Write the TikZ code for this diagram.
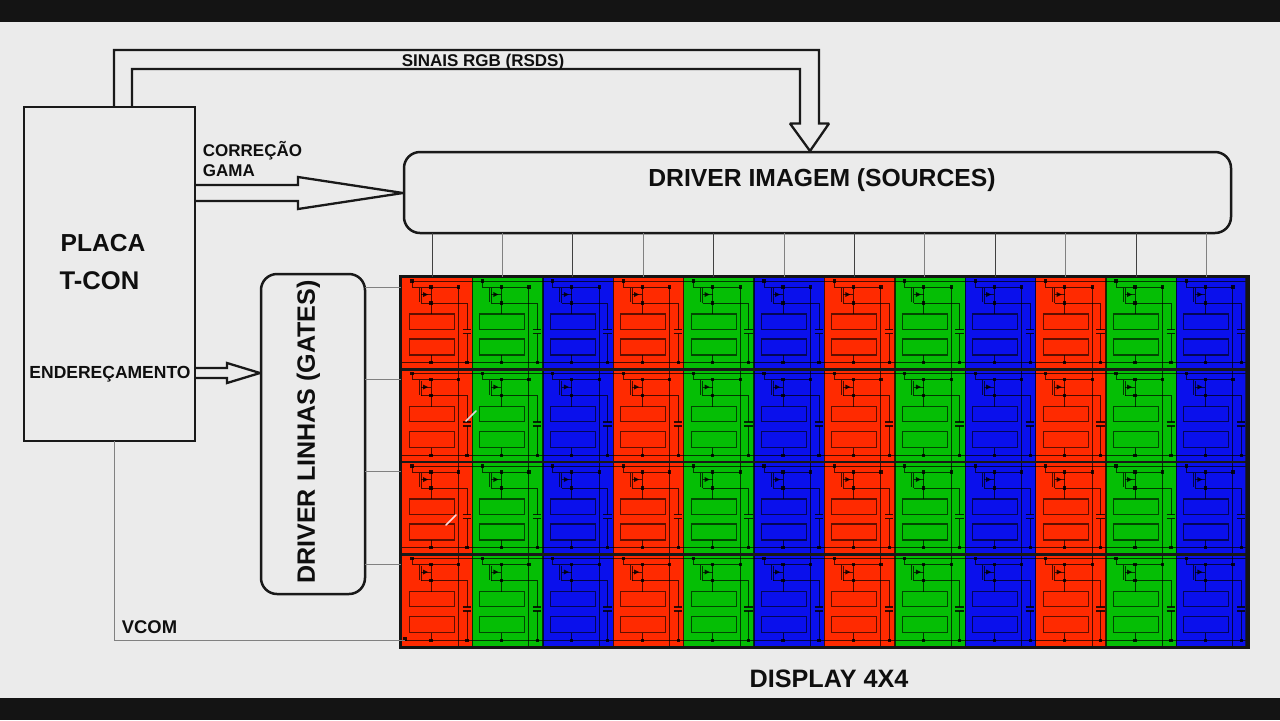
\documentclass[tikz,border=0pt]{standalone}
\usepackage{fontspec}
\setmainfont{Liberation Sans}
\begin{document}
\begin{tikzpicture}[x=0.5pt,y=-0.5pt,
  blockline/.style={draw=black!90,line width=1.25pt,line join=miter,outer sep=0pt},
  roundblock/.style={blockline,rounded corners=8pt,inner sep=0pt},
  fatarrow/.style={draw=black!90,line width=1.15pt,line join=miter,miter limit=2,fill=none},
  feed/.style={line width=0.5pt},
  feeddark/.style={feed,draw=black!75},
  feedgray/.style={feed,draw=black!50},
  wire/.style={draw=black,draw opacity=0.7,line width=0.5pt},
  wirebox/.style={draw=black,draw opacity=0.62,line width=0.55pt},
  capwire/.style={draw=black,draw opacity=0.8,line width=0.6pt},
  jdot/.style={fill=black,fill opacity=0.85,draw=none},
  cellbox/.style={draw=none,inner sep=0pt,outer sep=0pt,minimum width=35.2pt,minimum height=46.25pt,anchor=north west},
  lab/.style={font=\bfseries,text=black!94,inner sep=0pt},
  scratch/.style={line width=0.8pt,line cap=round}]
\definecolor{lcdred}{HTML}{FF2A00}
\definecolor{lcdgreen}{HTML}{05BE05}
\definecolor{lcdblue}{HTML}{0A10EC}
\definecolor{bgpaper}{HTML}{EBEBEB}
\definecolor{barblack}{HTML}{141414}
\useasboundingbox (0,0) rectangle (1280,720);
\fill[bgpaper] (0,0) rectangle (1280,720);
\fill[barblack] (0,0) rectangle (1280,22);
\fill[barblack] (0,698) rectangle (1280,720);

% blocks
\node[blockline,inner sep=0pt,minimum width=85.5pt,minimum height=167pt,anchor=north west] (tcon) at (24,107) {};
\node[roundblock,minimum width=413.5pt,minimum height=40.5pt,anchor=north west] (drvi) at (404,152) {};
\node[roundblock,minimum width=52pt,minimum height=160pt,anchor=north west] (drvl) at (261,274) {};

% cells
\foreach \r in {1,2,3,4}{
  \foreach \c in {1,...,12}{
    \pgfmathsetmacro{\cx}{402+(\c-1)*70.4}
    \pgfmathsetmacro{\cy}{277+(\r-1)*92.5}
    \pgfmathtruncatemacro{\k}{mod(\c-1,3)}
    \ifcase\k\def\cellcol{lcdred}\or\def\cellcol{lcdgreen}\else\def\cellcol{lcdblue}\fi
    \node[cellbox,fill=\cellcol] (cell-\r-\c) at (\cx,\cy) {};
    \begin{scope}[shift={(\cx,\cy)}]
      \draw[wire] (10,4) -- (10,10) -- (56.5,10);
      \draw[wire] (29,10) -- (29,26);
      \draw[wire] (17,10.5) -- (17,25);
      \draw[wire] (19,11) -- (19,26);
      \draw[wire] (19,17.5) -- (29,17.5);
      \fill[black,fill opacity=.85] (21,15) -- (26,17.5) -- (21,20) -- cycle;
      \draw[wire] (19,26) -- (65,26) -- (65,52.5);
      \draw[capwire] (60.5,52.5) -- (69,52.5);
      \draw[capwire] (60.5,56.5) -- (69,56.5);
      \draw[wire] (65,56.5) -- (65,85.7);
      \draw[wirebox] (7.5,37) rectangle (52.5,52.3);
      \draw[wirebox] (7.5,62) rectangle (52.5,78);
      \draw[wire] (29,26) -- (29,37);
      \draw[wire] (29,78) -- (29,85.7);
      \foreach \dx/\dy in {10/4,29/10,56.5/10,29/26,29/85.7,65/85.7}
        \fill[jdot] (\dx-1.6,\dy-1.6) rectangle (\dx+1.6,\dy+1.6);
    \end{scope}
  }
}
% long wires
\foreach \c in {1,...,12}{
  \pgfmathsetmacro{\cx}{402+(\c-1)*70.4}
  \draw[wire] (\cx+56.5,287) -- (\cx+56.5,647);
}
\foreach \c in {1,...,11}{
  \draw[draw=black,draw opacity=.7,line width=0.7pt] (cell-1-\c.north east) -- (cell-4-\c.south east);
}
\foreach \r in {1,2,3,4}{
  \pgfmathsetmacro{\cy}{277+(\r-1)*92.5}
  \draw[wire] (412,\cy+4) -- (1247,\cy+4);
  \draw[wire] (402,\cy+85.7) -- (1247,\cy+85.7);
}
\foreach \r in {1,2,3}{
  \draw[draw=black!90,line width=1.1pt] (cell-\r-1.south west) -- (cell-\r-12.south east);
}
\fill[jdot] (403.4,637.4) rectangle (406.6,640.6);
% display border
\node[draw=black!92,line width=1.5pt,inner sep=0pt,outer sep=0pt,minimum width=423.8pt,minimum height=185.5pt,anchor=north west] (disp) at (400.7,276.5) {};
\draw[draw=black!92,line width=1pt] (disp.north east) ++(-2,0) -- (disp.south east -| 1246.3,647.5);

% feeds to the display
\foreach \c in {1,...,12}{
  \pgfmathsetmacro{\sx}{432+(\c-1)*70.4}
  \coordinate (src\c) at (\sx,277);
  \pgfmathtruncatemacro{\odd}{mod(\c,2)}
  \ifnum\odd=1\def\fs{feeddark}\else\def\fs{feedgray}\fi
  \draw[\fs] (drvi.south -| src\c) -- (src\c);
}
\foreach \r/\gy in {1/287,2/379,3/471,4/564}{
  \coordinate (gate\r) at (401,\gy);
  \draw[feedgray] (drvl.east |- gate\r) -- (gate\r);
}
% VCOM
\coordinate (vcomout) at (114,441);
\coordinate (vcomin) at (405,640);
\draw[feedgray] (vcomout) -- (114,640) -- (vcomin);

% wide arrows
\coordinate (rgbA) at (114,107);
\coordinate (rgbB) at (132,107);
\coordinate (rgbTip) at (810,151);
\draw[fatarrow] (rgbA) -- (114,50) -- (819,50) -- (819,123.5) -- (829,123.5) -- (rgbTip) -- (790,123.5) -- (800,123.5) -- (800,69) -- (132,69) -- (rgbB);
\coordinate (gamA) at (195,185);
\coordinate (gamB) at (195,201);
\coordinate (gamTip) at (403,193);
\draw[fatarrow] (gamA) -- (298,185) -- (298,177) -- (gamTip) -- (298,209) -- (298,201) -- (gamB);
\coordinate (endA) at (195,368);
\coordinate (endB) at (195,378);
\coordinate (endTip) at (260,373);
\draw[fatarrow] (endA) -- (227,368) -- (227,363) -- (endTip) -- (227,383) -- (227,378) -- (endB);

% scratches
\draw[scratch,draw=white!70!gray] (466,421) -- (476,411);
\draw[scratch,draw=white!85!red] (446,525) -- (456,515);

% labels
\node[lab,font=\bfseries\fontsize{12.35}{14}\selectfont] (tdrvi) at (822,180) {DRIVER IMAGEM (SOURCES)};
\node[lab,font=\bfseries\fontsize{12.55}{14}\selectfont,rotate=90] (tdrvl) at (308.5,432) {DRIVER LINHAS (GATES)};
\node[lab,font=\bfseries\fontsize{12.3}{14}\selectfont] (tplaca) at (103,243.5) {PLACA};
\node[lab,font=\bfseries\fontsize{12.8}{14}\selectfont] (ttcon) at (99.5,280.5) {T-CON};
\node[lab,font=\bfseries\fontsize{8.75}{10}\selectfont] (tend) at (110,374.5) {ENDEREÇAMENTO};
\node[lab,font=\bfseries\fontsize{8.5}{10}\selectfont,anchor=west] (tcor) at (202.5,151) {CORREÇÃO};
\node[lab,font=\bfseries\fontsize{8.5}{10}\selectfont,anchor=west] (tgam) at (202.5,170.5) {GAMA};
\node[lab,font=\bfseries\fontsize{8.5}{10}\selectfont] (trgb) at (483,62) {SINAIS RGB (RSDS)};
\node[lab,font=\bfseries\fontsize{9.2}{10}\selectfont] (tvcom) at (149.5,627) {VCOM};
\node[lab,font=\bfseries\fontsize{12.6}{14}\selectfont] (tdisp) at (829,678.5) {DISPLAY 4X4};
\end{tikzpicture}
\end{document}
